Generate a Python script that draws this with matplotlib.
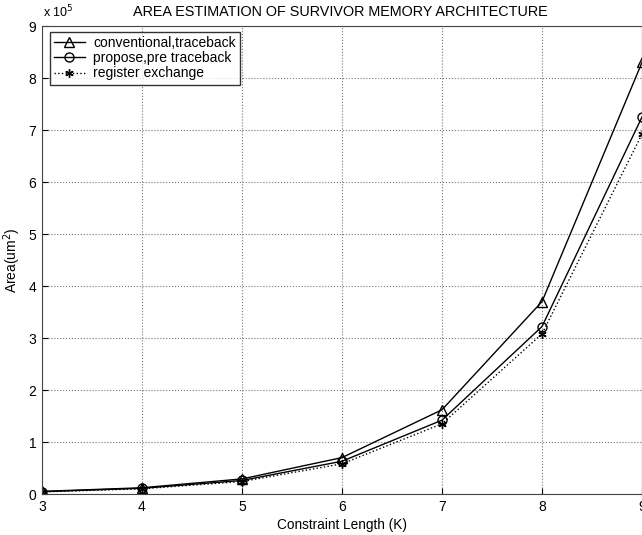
import matplotlib
matplotlib.use("Agg")
import matplotlib.pyplot as plt

plt.rcParams['font.family'] = ['Liberation Sans', 'DejaVu Sans']

K = [3, 4, 5, 6, 7, 8, 9]
conventional = [0.05, 0.12, 0.29, 0.70, 1.62, 3.70, 8.30]
propose = [0.045, 0.11, 0.26, 0.63, 1.42, 3.22, 7.25]
register = [0.04, 0.10, 0.24, 0.58, 1.35, 3.08, 6.92]

W, H = 642, 535
fig = plt.figure(figsize=(W / 100, H / 100), dpi=100)
ax = fig.add_axes([42 / W, 41 / H, 600 / W, 468 / H])

ax.plot(K, conventional, color='black', lw=1.0, marker='^', mfc='none', ms=6.5,
        label='conventional,traceback')
ax.plot(K, propose, color='black', lw=1.0, marker='o', mfc='none', ms=6.5,
        label='propose,pre traceback')
ax.plot(K, register, color='black', lw=1.0, ls=':', marker=(6, 2, 0), ms=6,
        label='register exchange')

ax.set_xlim(3, 9)
ax.set_ylim(0, 9)
ax.set_xticks(K)
ax.set_yticks(range(0, 10))
ax.grid(True, ls=':', color='#777777', lw=0.8)
ax.tick_params(direction='in', labelsize=10, length=4, pad=4)
for s in ax.spines.values():
    s.set_color('#444444')

ax.set_xlabel('Constraint Length (K)', fontsize=9.8, labelpad=3)
ax.set_ylabel(r'Area(um$^2$)', fontsize=10, labelpad=4)
fig.text(340 / W, 1 - 12 / H, 'AREA ESTIMATION OF SURVIVOR MEMORY ARCHITECTURE',
         fontsize=10.4, ha='center', va='center')
fig.text(43 / W, 1 - 20 / H, r'x 10$^5$', fontsize=9, ha='left', va='bottom')

leg = ax.legend(loc='upper left', bbox_to_anchor=(50 / W, 1 - 32 / H),
                bbox_transform=fig.transFigure, borderaxespad=0,
                prop={'size': 10}, frameon=True, fancybox=False,
                edgecolor='black', handlelength=2.2,
                labelspacing=0.08, borderpad=0.3, handletextpad=0.6)
leg.get_frame().set_linewidth(1.0)

fig.savefig('out.png', dpi=100)
